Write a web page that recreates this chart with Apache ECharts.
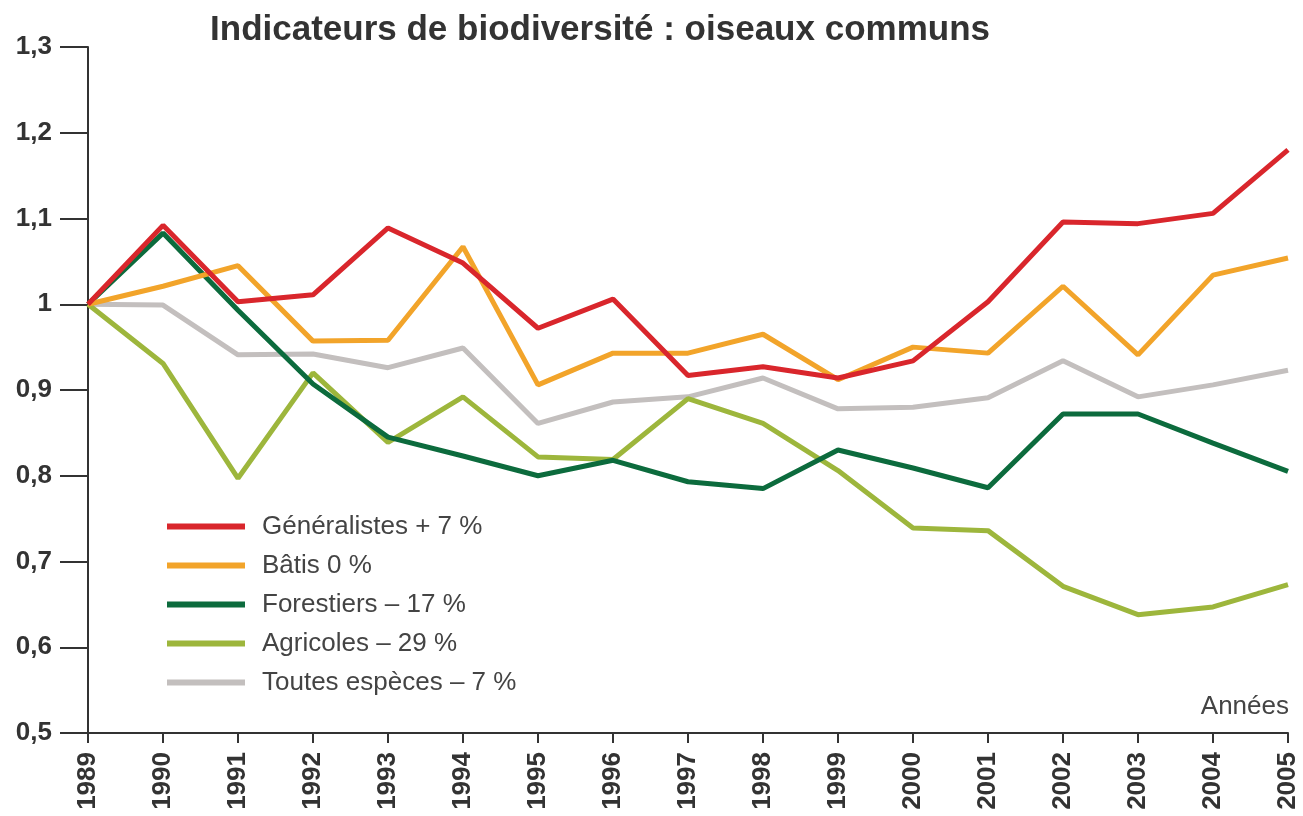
<!DOCTYPE html>
<html>
<head>
<meta charset="utf-8">
<script src="https://cdn.jsdelivr.net/npm/echarts@6/dist/echarts.min.js"></script>
<style>
  html, body { margin: 0; padding: 0; background: #fff; }
  #main { width: 1303px; height: 816px; }
</style>
</head>
<body>
<div id="main"></div>
<script>
// années
var years = ['1989', '1990', '1991', '1992', '1993', '1994', '1995', '1996', '1997',
             '1998', '1999', '2000', '2001', '2002', '2003', '2004', '2005'];

// indices (base 1 en 1989)
var generalistes = [1.0, 1.092, 1.003, 1.011, 1.089, 1.048, 0.972, 1.006, 0.917,
                    0.927, 0.914, 0.934, 1.003, 1.096, 1.094, 1.106, 1.180];
var batis = [1.0, 1.021, 1.045, 0.957, 0.958, 1.067, 0.906, 0.943, 0.943,
             0.965, 0.912, 0.950, 0.943, 1.021, 0.941, 1.034, 1.054];
var forestiers = [1.0, 1.083, 0.993, 0.907, 0.845, 0.823, 0.800, 0.818, 0.793,
                  0.785, 0.830, 0.809, 0.786, 0.872, 0.872, 0.838, 0.805];
var agricoles = [1.0, 0.931, 0.797, 0.920, 0.839, 0.892, 0.822, 0.819, 0.890,
                 0.861, 0.806, 0.739, 0.736, 0.671, 0.638, 0.647, 0.673];
var toutes = [1.0, 0.999, 0.941, 0.942, 0.926, 0.949, 0.861, 0.886, 0.892,
              0.914, 0.878, 0.880, 0.891, 0.934, 0.892, 0.906, 0.923];

var seriesNames = ['Généralistes + 7 %', 'Bâtis 0 %', 'Forestiers – 17 %',
                   'Agricoles – 29 %', 'Toutes espèces – 7 %'];
var seriesData = [generalistes, batis, forestiers, agricoles, toutes];
var colors = ['#d9262c', '#f2a42a', '#0c6b3d', '#9db63c', '#c3bfbe'];

var FONT = '"Liberation Sans", Arial, sans-serif';
var axisColor = '#333';

var myChart = echarts.init(document.getElementById('main'));

var series = [];
for (var i = seriesData.length - 1; i >= 0; i--) {
    series.push({
        name: seriesNames[i],
        type: 'line',
        data: seriesData[i],
        symbol: 'none',
        lineStyle: { width: 5, color: colors[i] },
        itemStyle: { color: colors[i] },
        z: 10 - i
    });
}

var option = {
    animation: false,
    backgroundColor: '#fff',
    title: {
        text: 'Indicateurs de biodiversité : oiseaux communs',
        left: 595,
        textAlign: 'center',
        top: 8,
        textStyle: {
            fontFamily: FONT,
            fontSize: 35,
            fontWeight: 'bold',
            color: '#333'
        }
    },
    legend: {
        data: seriesNames,
        orient: 'vertical',
        left: 162,
        top: 508,
        itemWidth: 78,
        itemHeight: 6,
        itemGap: 12,
        icon: 'rect',
        textStyle: {
            fontFamily: FONT,
            fontSize: 26,
            color: '#444',
            lineHeight: 27,
            padding: [0, 0, 0, 12]
        }
    },
    grid: {
        left: 88,
        right: 15,
        top: 47,
        bottom: 83,
        containLabel: false
    },
    xAxis: {
        type: 'category',
        data: years,
        boundaryGap: false,
        axisLine: { lineStyle: { color: axisColor, width: 2 } },
        axisTick: { alignWithLabel: true, length: 10, lineStyle: { color: axisColor, width: 2 } },
        axisLabel: {
            rotate: 90,
            interval: 0,
            margin: 19,
            fontFamily: FONT,
            fontSize: 26,
            fontWeight: 'bold',
            color: axisColor
        },
        splitLine: { show: false }
    },
    yAxis: {
        type: 'value',
        min: 0.5,
        max: 1.3,
        interval: 0.1,
        axisLine: { show: true, lineStyle: { color: axisColor, width: 2 } },
        axisTick: { show: true, inside: false, length: 28, lineStyle: { color: axisColor, width: 2 } },
        axisLabel: {
            margin: 36,
            fontFamily: FONT,
            fontSize: 26,
            fontWeight: 'bold',
            color: axisColor,
            formatter: function (v) {
                return String(+v.toFixed(1)).replace('.', ',');
            }
        },
        splitLine: { show: false }
    },
    graphic: [{
        type: 'text',
        right: 14,
        top: 694,
        style: {
            text: 'Années',
            fontFamily: FONT,
            fontSize: 26,
            fill: '#444'
        }
    }],
    series: series
};

myChart.setOption(option);
</script>
</body>
</html>
